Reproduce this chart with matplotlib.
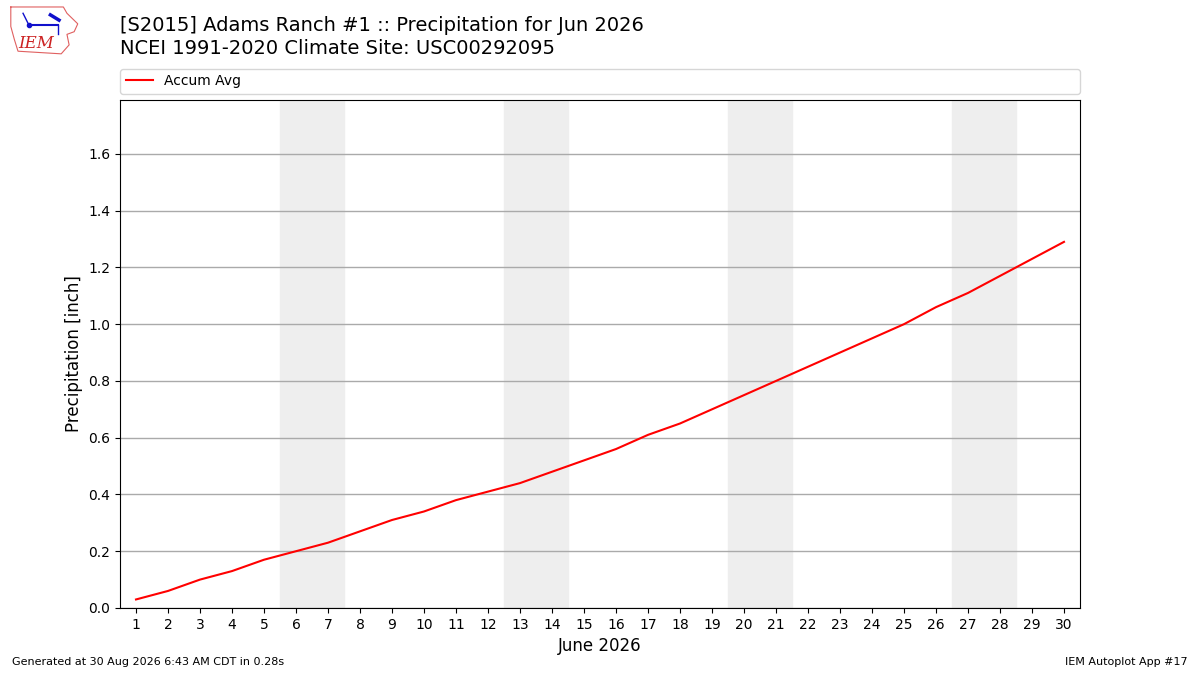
import matplotlib
matplotlib.use("Agg")
import matplotlib.pyplot as plt

# June 2026 days and normal accumulated precipitation (inch)
days = list(range(1, 31))
accum_avg = [0.03, 0.06, 0.10, 0.13, 0.17, 0.20, 0.23, 0.27, 0.31, 0.34,
             0.38, 0.41, 0.44, 0.48, 0.52, 0.56, 0.61, 0.65, 0.70, 0.75,
             0.80, 0.85, 0.90, 0.95, 1.00, 1.06, 1.11, 1.17, 1.23, 1.29]
weekends = [6, 13, 20, 27]

fig = plt.figure(figsize=(12, 6.75), dpi=100)
ax = fig.add_axes([0.1, 0.0993, 0.8, 0.7526])

# weekend shading
for d in weekends:
    ax.axvspan(d - 0.5, d + 1.5, color="#eeeeee", zorder=0)

ax.plot(days, accum_avg, color="red", lw=1.5, label="Accum Avg", zorder=3)

ax.set_xlim(0.5, 30.5)
ax.set_ylim(0, 1.79)
ax.set_xticks(days)
ax.set_yticks([0, 0.2, 0.4, 0.6, 0.8, 1.0, 1.2, 1.4, 1.6])
ax.yaxis.grid(True, color="#aaaaaa", lw=1)
ax.set_axisbelow(True)
ax.set_xlabel("June 2026", fontsize=12)
ax.set_ylabel("Precipitation [inch]", fontsize=12)

ax.legend(loc="lower left", bbox_to_anchor=(0, 1.012, 1, 0.1), mode="expand",
          ncol=1, fontsize=10, borderaxespad=0)

fig.text(0.1, 0.945, "[S2015] Adams Ranch #1 :: Precipitation for Jun 2026\n"
         "NCEI 1991-2020 Climate Site: USC00292095",
         fontsize=14, va="center", ha="left", linespacing=1.3)

# rough IEM logo
lax = fig.add_axes([0.006, 0.914, 0.06, 0.078])
lax.set_xlim(0, 10)
lax.set_ylim(0, 10)
lax.axis("off")
outline_x = [0.5, 7.8, 8.3, 9.8, 9.3, 8.3, 8.6, 7.5, 1.5, 1.0, 0.5, 0.5]
outline_y = [9.7, 9.7, 8.5, 6.5, 5.0, 4.5, 2.5, 0.8, 1.3, 3.5, 6.0, 9.7]
lax.plot(outline_x, outline_y, color="#e06060", lw=0.8)
lax.text(4.0, 2.8, "IEM", color="#cc2222", fontsize=12, style="italic",
         family="DejaVu Serif", ha="center", va="center")
lax.plot([3.0, 7.0], [6.3, 6.3], color="#1010cc", lw=1.5)
lax.plot([3.0], [6.3], "o", color="#1010cc", ms=3)
lax.plot([2.2, 3.0], [8.5, 6.3], color="#1010cc", lw=1)
lax.plot([6.0, 7.2], [8.2, 7.2], color="#1010cc", lw=2.5)
lax.plot([7.0, 7.0], [6.3, 4.5], color="#1010cc", lw=1)

fig.text(0.01, 0.015, "Generated at 30 Aug 2026 6:43 AM CDT in 0.28s", fontsize=8)
fig.text(0.99, 0.015, "IEM Autoplot App #17", fontsize=8, ha="right")

fig.savefig("out.png", dpi=100)
